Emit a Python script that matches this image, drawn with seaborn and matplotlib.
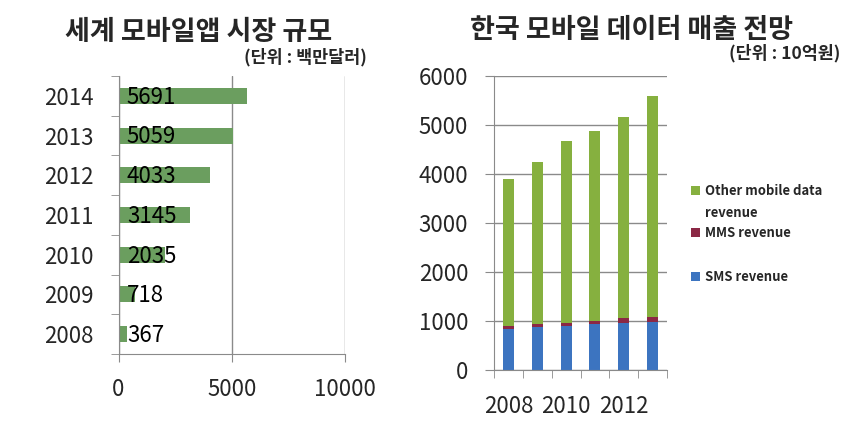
import numpy as np
import pandas as pd
import matplotlib
matplotlib.use('Agg')
import matplotlib.pyplot as plt
from matplotlib.patches import Patch
import seaborn as sns

# world mobile app market (unit: million USD)
app_years = ['2008', '2009', '2010', '2011', '2012', '2013', '2014']
app_values = [367, 718, 2035, 3145, 4033, 5059, 5691]

# korea mobile data revenue (unit: 1 billion KRW)
rev_years = ['2008', '2009', '2010', '2011', '2012', '2013']
sms_revenue = [840, 880, 900, 930, 960, 975]
mms_revenue = [50, 50, 60, 80, 95, 100]
other_revenue = [3000, 3310, 3710, 3870, 4105, 4510]

APP_GREEN = '#6B9E5F'
OTHER_GREEN = '#86B03F'
MMS_RED = '#8B2845'
SMS_BLUE = '#3C74C0'
AXIS_GRAY = '#8A8A8A'

sns.set_style('white')
plt.rcParams['font.family'] = ['Noto Sans CJK KR', 'DejaVu Sans']

fig = plt.figure(figsize=(8.51, 4.29), dpi=100)

def fx(px):
    return px / 851

def fy(py):
    return 1 - py / 429

# ---------------- left chart ----------------
ax1 = fig.add_axes([fx(118.5), fy(354), fx(226.5), 278 / 429])
app_df = pd.DataFrame({'year': app_years, 'value': app_values})
order = app_years[::-1]
sns.barplot(data=app_df, x='value', y='year', order=order, orient='h',
            color=APP_GREEN, saturation=1, width=0.4, linewidth=0, ax=ax1)
ax1.set_xlim(0, 10000)
ax1.set_ylim(len(order) - 0.5, -0.5)
for i, yr in enumerate(order):
    v = app_df.loc[app_df['year'] == yr, 'value'].iloc[0]
    ax1.annotate(str(v), xy=(0, i), xytext=(6, -1), textcoords='offset points',
                 ha='left', va='center', fontsize=16, color='black')

ax1.set_xticks([0, 5000, 10000])
ax1.set_xticklabels(['0', '5000', '10000'])
ax1.set_yticks(range(len(order)))
ax1.set_yticklabels(order)
ax1.set_yticks(np.arange(-0.5, len(order), 1), minor=True)
ax1.tick_params(axis='y', which='major', length=0, pad=18, labelsize=16)
ax1.tick_params(axis='y', which='minor', length=6, direction='out', color=AXIS_GRAY, left=True)
ax1.tick_params(axis='x', which='major', length=6, direction='out', color=AXIS_GRAY,
                bottom=True, pad=11, labelsize=16)
ax1.xaxis.grid(True, color=AXIS_GRAY, lw=1)
ax1.set_axisbelow(True)
for s in ['top', 'right']:
    ax1.spines[s].set_visible(False)
for s in ['left', 'bottom']:
    ax1.spines[s].set_color(AXIS_GRAY)
ax1.set_xlabel('')
ax1.set_ylabel('')

fig.text(fx(198.5), fy(32), '세계 모바일앱 시장 규모', ha='center', va='center',
         fontsize=19.5, fontweight='bold')
fig.text(fx(367), fy(57), '(단위 : 백만달러)', ha='right', va='center',
         fontsize=12.5, fontweight='bold')

# ---------------- right chart ----------------
ax2 = fig.add_axes([fx(494), fy(370), fx(173), 294 / 429])
rev_df = pd.DataFrame({'year': rev_years, 'sms': sms_revenue,
                       'mms': mms_revenue, 'other': other_revenue})
rev_df['sms_mms'] = rev_df['sms'] + rev_df['mms']
rev_df['total'] = rev_df['sms_mms'] + rev_df['other']

sns.barplot(data=rev_df, x='year', y='total', color=OTHER_GREEN, saturation=1,
            width=0.38, linewidth=0, ax=ax2)
sns.barplot(data=rev_df, x='year', y='sms_mms', color=MMS_RED, saturation=1,
            width=0.38, linewidth=0, ax=ax2)
sns.barplot(data=rev_df, x='year', y='sms', color=SMS_BLUE, saturation=1,
            width=0.38, linewidth=0, ax=ax2)

ax2.set_ylim(0, 6000)
ax2.set_xlim(-0.5, len(rev_years) - 0.5)
ax2.set_yticks(range(0, 6001, 1000))
ax2.set_xticks(range(0, len(rev_years), 2))
ax2.set_xticklabels(rev_years[::2])
ax2.set_xticks(np.arange(-0.5, len(rev_years), 1), minor=True)
ax2.tick_params(axis='x', which='major', length=0, pad=18, labelsize=16)
ax2.tick_params(axis='x', which='minor', length=6, direction='out', color=AXIS_GRAY, bottom=True)
ax2.tick_params(axis='y', which='major', length=6.5, direction='out', color=AXIS_GRAY,
                left=True, pad=12, labelsize=16)
ax2.yaxis.grid(True, color=AXIS_GRAY, lw=1)
ax2.set_axisbelow(True)
for s in ['top', 'right']:
    ax2.spines[s].set_visible(False)
for s in ['left', 'bottom']:
    ax2.spines[s].set_color(AXIS_GRAY)
ax2.set_xlabel('')
ax2.set_ylabel('')

fig.text(fx(631), fy(30), '한국 모바일 데이터 매출 전망', ha='center', va='center',
         fontsize=19.5, fontweight='bold')
fig.text(fx(840), fy(53), '(단위 : 10억원)', ha='right', va='center',
         fontsize=12.5, fontweight='bold')

# legend, one entry per block to match the uneven spacing
legend_items = [
    ('Other mobile data', OTHER_GREEN, 184),
    ('MMS revenue', MMS_RED, 226),
    ('SMS revenue', SMS_BLUE, 270),
]
for label, col, ypx in legend_items:
    fig.legend(handles=[Patch(facecolor=col, edgecolor='none')], labels=[label],
               loc='upper left', bbox_to_anchor=(fx(691), fy(ypx)),
               frameon=False, handlelength=0.7, handleheight=0.7,
               handletextpad=0.4, borderpad=0, borderaxespad=0,
               prop={'size': 9.4, 'weight': 'bold'})
# second line of the first legend label
fig.text(fx(705), fy(213), 'revenue', ha='left', va='center',
         fontsize=9.4, fontweight='bold')

fig.savefig('out.png', dpi=100)
